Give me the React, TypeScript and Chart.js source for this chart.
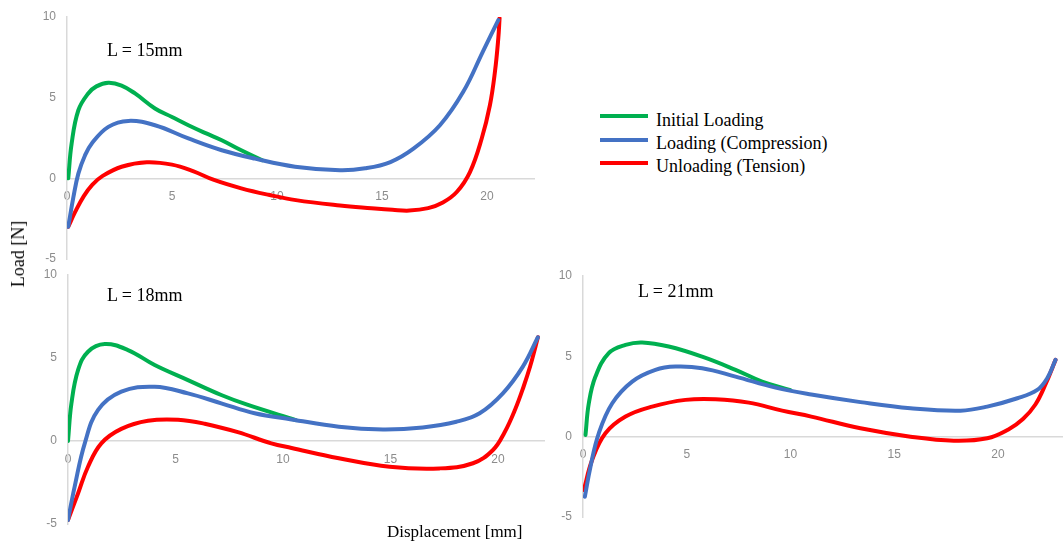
import React, { useEffect, useRef } from "react";
import { Chart, registerables } from "chart.js";

Chart.register(...registerables);

// ---------- Data (Displacement [mm] vs Load [N]) ----------
// L = 15mm
const l15InitialX = [0.06, 0.22, 0.54, 1.01, 1.4, 1.97, 2.6, 3.24, 4.19, 5.0, 5.78, 6.6, 7.37, 8.2, 9.3];
const l15InitialY = [0, 2.15, 4.22, 5.26, 5.7, 5.92, 5.75, 5.26, 4.33, 3.8, 3.29, 2.8, 2.36, 1.8, 1.12];
const l15LoadingX = [0.06, 0.3, 0.54, 0.85, 1.18, 1.97, 2.92, 4.19, 5.78, 7.37, 8.95, 10.86, 13.0, 14.2, 15.4, 16.5, 17.76, 18.87, 19.8, 20.54];
const l15LoadingY = [-3.0, -1.2, 0.29, 1.4, 2.16, 3.19, 3.56, 3.29, 2.47, 1.74, 1.22, 0.72, 0.5, 0.62, 1.01, 1.84, 3.29, 5.36, 7.84, 9.81];
const l15UnloadingX = [0.06, 0.4, 0.8, 1.2, 1.7, 2.6, 3.8, 5.0, 6.0, 7.0, 8.3, 9.6, 10.9, 13.0, 14.5, 15.5, 16.3, 17.2, 17.9, 18.56, 19.19, 19.75, 20.14, 20.38, 20.54, 20.6];
const l15UnloadingY = [-3.0, -2.05, -1.1, -0.4, 0.15, 0.72, 1.0, 0.85, 0.45, -0.1, -0.62, -1.02, -1.35, -1.68, -1.85, -1.95, -2.0, -1.85, -1.5, -0.85, 0.39, 2.47, 4.53, 6.6, 8.68, 9.92];

// L = 18mm
const l18InitialX = [0, 0.16, 0.47, 0.93, 1.71, 2.79, 4.03, 5.58, 7.13, 8.37, 10.6];
const l18InitialY = [0, 2.27, 4.28, 5.38, 5.84, 5.48, 4.58, 3.67, 2.77, 2.17, 1.26];
const l18LoadingX = [0, 0.31, 0.78, 1.4, 2.48, 4.03, 5.58, 7.13, 8.68, 10.4, 12.6, 14.65, 16.5, 18.07, 19.15, 20.23, 21.16, 21.86];
const l18LoadingY = [-4.76, -2.75, -0.14, 1.87, 2.97, 3.27, 2.87, 2.27, 1.67, 1.3, 0.86, 0.7, 0.82, 1.16, 1.67, 2.87, 4.48, 6.25];
const l18UnloadingX = [0, 0.47, 0.93, 1.55, 2.48, 3.72, 5.12, 6.36, 7.9, 9.46, 10.4, 12.6, 14.96, 17.29, 18.84, 19.77, 20.3, 20.8, 21.2, 21.5, 21.75, 21.86];
const l18UnloadingY = [-4.76, -3.15, -1.55, -0.14, 0.73, 1.22, 1.28, 1.04, 0.53, -0.14, -0.42, -1.04, -1.55, -1.65, -1.34, -0.54, 0.5, 1.9, 3.3, 4.5, 5.7, 6.25];

// L = 21mm
const l21InitialX = [0.12, 0.28, 0.6, 1.24, 2.05, 2.85, 4.13, 5.74, 7.35, 8.63, 10.0];
const l21InitialY = [0.1, 2.08, 3.74, 5.2, 5.71, 5.86, 5.61, 4.98, 4.16, 3.43, 2.9];
const l21LoadingX = [0.09, 0.36, 0.76, 1.41, 2.37, 3.49, 4.46, 5.74, 7.35, 9.28, 11.0, 13.37, 15.78, 18.19, 19.48, 20.93, 21.89, 22.37, 22.77];
const l21LoadingY = [-3.74, -1.87, 0.21, 2.08, 3.43, 4.16, 4.36, 4.26, 3.74, 3.05, 2.62, 2.15, 1.77, 1.62, 1.87, 2.39, 2.91, 3.64, 4.78];
const l21UnloadingX = [0.04, 0.44, 1.08, 2.05, 3.33, 4.94, 6.39, 7.99, 9.6, 11.0, 13.37, 15.78, 17.87, 19.48, 20.5, 21.2, 21.8, 22.3, 22.77];
const l21UnloadingY = [-3.32, -1.45, 0.21, 1.25, 1.87, 2.29, 2.33, 2.12, 1.62, 1.25, 0.52, 0.0, -0.25, -0.1, 0.45, 1.1, 2.0, 3.3, 4.78];

const seriesLabels = ["Initial Loading", "Loading (Compression)", "Unloading (Tension)"];
const seriesColors = ["#00b050", "#4472c4", "#ff0000"];
const yTicks = [-5, 0, 5, 10];
const xTickStep = 5;

const TICK_FONT = "'Liberation Sans', Arial, sans-serif";
const SERIF = "'Liberation Serif', 'Times New Roman', serif";

const toPoints = (xs: number[], ys: number[]) => xs.map((x, i) => ({ x, y: ys[i] }));

type PanelProps = {
  left: number;
  top: number;
  width: number;
  height: number;
  pad: { top: number; right: number; bottom: number; left: number };
  yAxisWidth: number;
  xMax: number;
  series: { x: number[]; y: number[] }[];
};

function Panel({ left, top, width, height, pad, yAxisWidth, xMax, series }: PanelProps) {
  const ref = useRef<HTMLCanvasElement | null>(null);
  useEffect(() => {
    if (!ref.current) return;
    const datasets = series.map((s, i) => ({
      label: seriesLabels[i],
      data: toPoints(s.x, s.y),
      borderColor: seriesColors[i],
      backgroundColor: seriesColors[i],
      borderWidth: 4,
      pointRadius: 0,
      showLine: true,
      fill: false,
      tension: 0.4,
      borderCapStyle: "round" as const,
      borderJoinStyle: "round" as const,
      order: i === 2 ? 3 : i === 1 ? 1 : 2,
    }));
    const chart = new Chart(ref.current, {
      type: "scatter",
      data: { datasets },
      options: {
        animation: false,
        responsive: false,
        devicePixelRatio: 1,
        layout: { padding: pad },
        plugins: { legend: { display: false }, tooltip: { enabled: false } },
        scales: {
          x: {
            type: "linear",
            min: 0,
            max: xMax,
            position: { y: 0 } as any,
            afterFit: (s: any) => {
              s.height = 0;
              s.paddingLeft = 0;
              s.paddingRight = 0;
            },
            grid: { display: false, drawTicks: false },
            border: { display: true, color: "#d9d9d9", width: 1.5 },
            ticks: {
              stepSize: xTickStep,
              includeBounds: false,
              padding: 11,
              maxRotation: 0,
              autoSkip: false,
              color: "#8c8c8c",
              font: { family: TICK_FONT, size: 12 },
            },
          },
          y: {
            type: "linear",
            min: yTicks[0],
            max: yTicks[yTicks.length - 1],
            afterFit: (s: any) => {
              s.width = yAxisWidth;
              s.paddingTop = 0;
              s.paddingBottom = 0;
            },
            afterBuildTicks: (s: any) => {
              s.ticks = yTicks.map((v) => ({ value: v }));
            },
            grid: { display: false, drawTicks: false },
            border: { display: true, color: "#d9d9d9", width: 1.5 },
            ticks: {
              padding: 11,
              color: "#8c8c8c",
              font: { family: TICK_FONT, size: 12 },
            },
          },
        },
      },
    });
    return () => chart.destroy();
  }, []);
  return (
    <canvas
      ref={ref}
      width={width}
      height={height}
      style={{ position: "absolute", left, top, width, height, display: "block" }}
    />
  );
}

const textStyle: React.CSSProperties = {
  position: "absolute",
  fontFamily: SERIF,
  fontSize: 18,
  lineHeight: "18px",
  color: "#000",
  whiteSpace: "nowrap",
};

export default function App() {
  return (
    <div
      style={{
        position: "absolute",
        left: 0,
        top: 0,
        width: 1063,
        height: 544,
        background: "#fff",
        overflow: "hidden",
      }}
    >
      <Panel
        left={0}
        top={0}
        width={540}
        height={272}
        pad={{ top: 17, right: 6, bottom: 13, left: 0 }}
        yAxisWidth={67}
        xMax={22.24}
        series={[
          { x: l15InitialX, y: l15InitialY },
          { x: l15LoadingX, y: l15LoadingY },
          { x: l15UnloadingX, y: l15UnloadingY },
        ]}
      />
      <Panel
        left={0}
        top={258}
        width={545}
        height={286}
        pad={{ top: 17, right: 0, bottom: 20, left: 0 }}
        yAxisWidth={68}
        xMax={22.19}
        series={[
          { x: l18InitialX, y: l18InitialY },
          { x: l18LoadingX, y: l18LoadingY },
          { x: l18UnloadingX, y: l18UnloadingY },
        ]}
      />
      <Panel
        left={545}
        top={258}
        width={518}
        height={286}
        pad={{ top: 18, right: 0, bottom: 27, left: 0 }}
        yAxisWidth={38}
        xMax={23.13}
        series={[
          { x: l21InitialX, y: l21InitialY },
          { x: l21LoadingX, y: l21LoadingY },
          { x: l21UnloadingX, y: l21UnloadingY },
        ]}
      />

      <div style={{ ...textStyle, left: 107, top: 41 }}>L = 15mm</div>
      <div style={{ ...textStyle, left: 107, top: 286 }}>L = 18mm</div>
      <div style={{ ...textStyle, left: 638, top: 282 }}>L = 21mm</div>

      {seriesLabels.map((label, i) => (
        <div key={label}>
          <div
            style={{
              position: "absolute",
              left: 600,
              top: [116, 140, 163][i] - 2,
              width: 48,
              height: 4,
              background: seriesColors[i],
            }}
          />
          <div style={{ ...textStyle, left: 656, top: [111, 134, 157][i] }}>{label}</div>
        </div>
      ))}

      <div
        style={{
          ...textStyle,
          left: 18,
          top: 254,
          transform: "translate(-50%, -50%) rotate(-90deg)",
        }}
      >
        Load [N]
      </div>
      <div style={{ ...textStyle, fontSize: 17, left: 387, top: 523 }}>Displacement [mm]</div>
    </div>
  );
}
